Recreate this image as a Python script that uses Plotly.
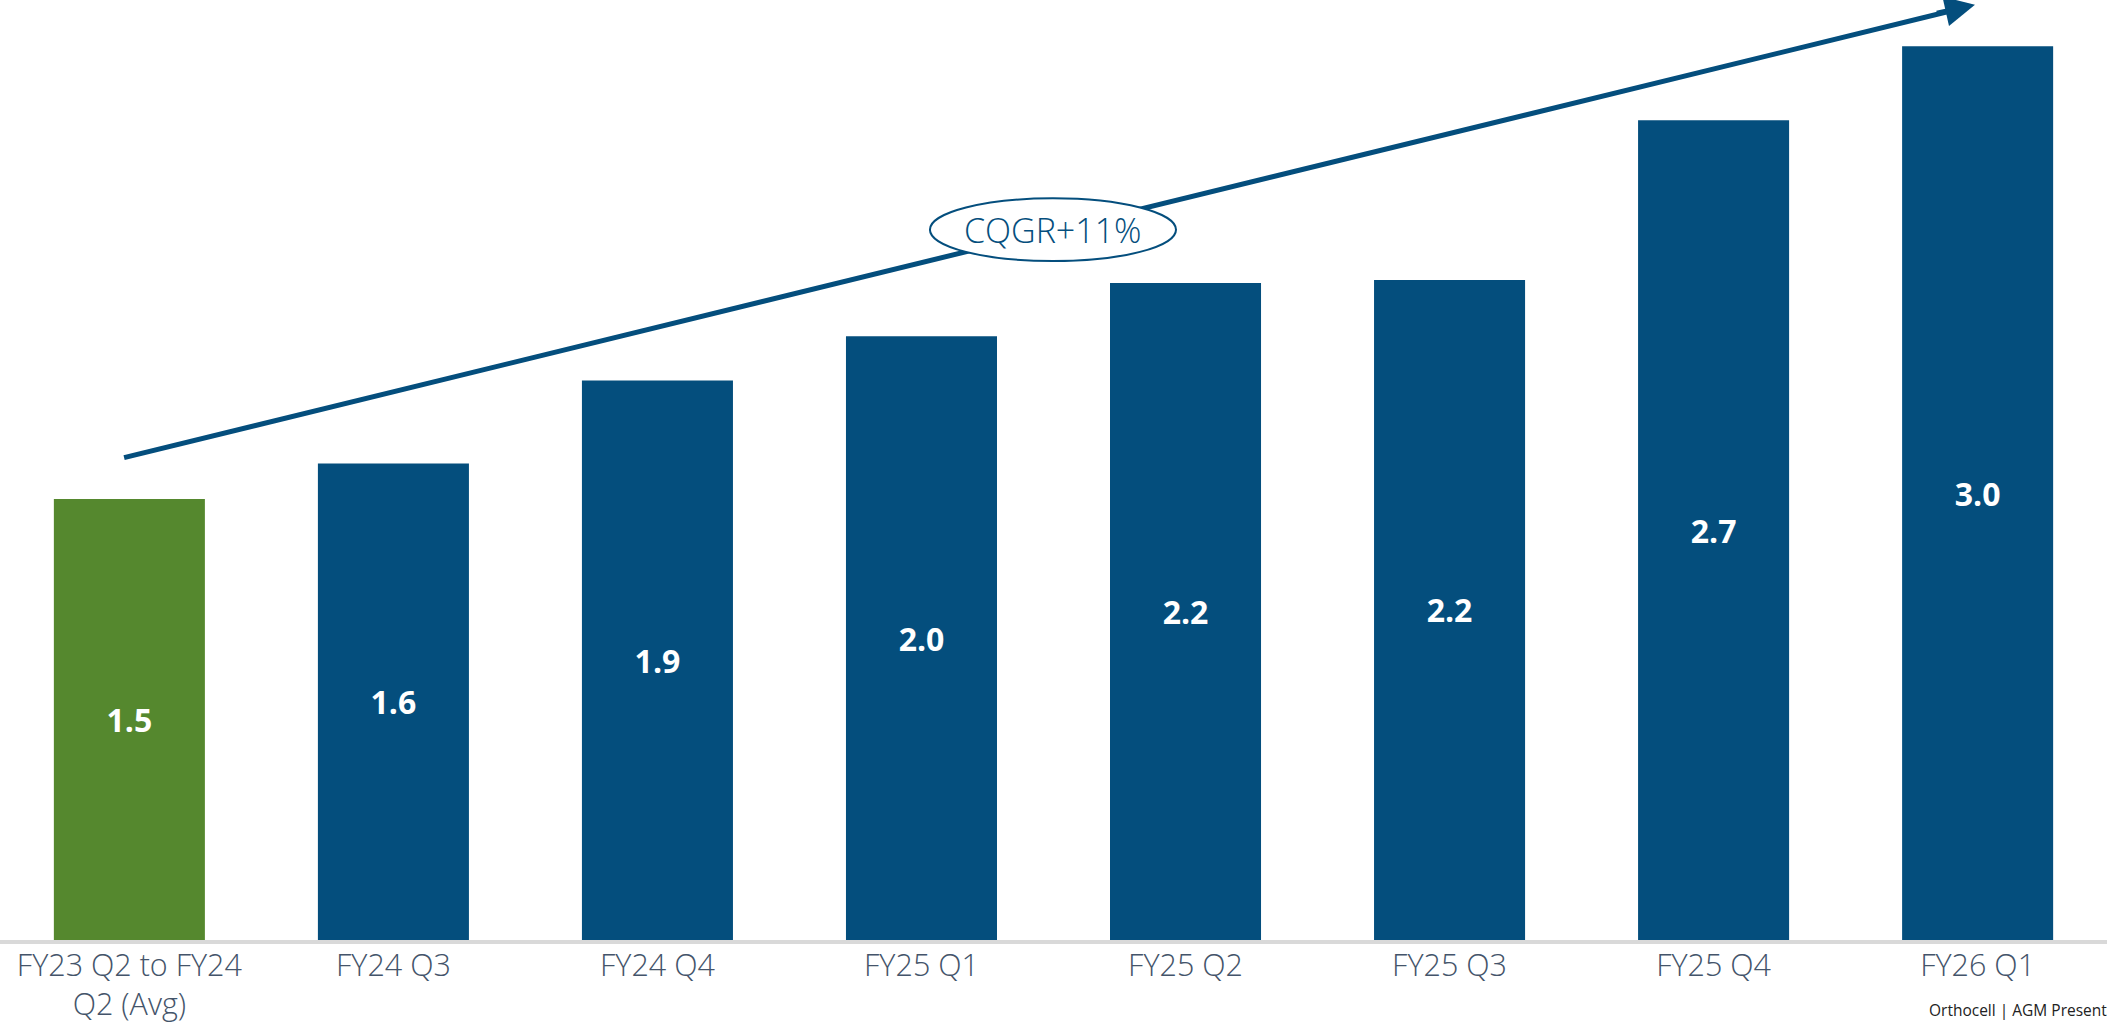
import plotly.graph_objects as go

categories = ["FY23 Q2 to FY24<br>Q2 (Avg)", "FY24 Q3", "FY24 Q4", "FY25 Q1",
              "FY25 Q2", "FY25 Q3", "FY25 Q4", "FY26 Q1"]
values = [1.49, 1.61, 1.89, 2.04, 2.22, 2.23, 2.77, 3.02]
value_labels = ["1.5", "1.6", "1.9", "2.0", "2.2", "2.2", "2.7", "3.0"]
bar_colors = ["#55882E"] + ["#044E7D"] * 7
growth_label = "CQGR+11%"
footer = "Orthocell | AGM Presentation"

BLUE = "#044E7D"
W, H = 2107, 1025
B = 85
PLOT_H = H - B
YMAX = 3.176

x_idx = list(range(len(categories)))

fig = go.Figure()
fig.add_trace(go.Bar(x=x_idx, y=values, marker=dict(color=bar_colors, line=dict(width=0)),
                     width=0.572, hoverinfo="skip", text=value_labels,
                     textposition="inside", insidetextanchor="middle", textangle=0,
                     constraintext="none",
                     textfont=dict(family="Open Sans", size=32, color="white", weight="bold")))

# trend arrow line (shape) + ellipse label
x0, y0, x1, y1 = -0.02, 1.63, 6.99, 3.16
fig.add_shape(type="line", xref="x", yref="y", x0=x0, y0=y0, x1=x1 - 0.05, y1=y1 - 0.012,
              line=dict(color=BLUE, width=5), layer="above")
fig.add_annotation(x=x1, y=y1, ax=x1 - 0.15, ay=y1 - 0.03, xref="x", yref="y",
                   axref="x", ayref="y", showarrow=True, arrowhead=2, arrowsize=1.2,
                   arrowwidth=5, arrowcolor=BLUE, text="")
ex, ey = 3.498, 2.40
fig.add_shape(type="circle", xref="x", yref="y", x0=ex - 0.466, x1=ex + 0.466,
              y0=ey - 0.106, y1=ey + 0.106, fillcolor="white",
              line=dict(color=BLUE, width=2), layer="above")
fig.add_annotation(x=ex, y=ey, xref="x", yref="y", text=growth_label, showarrow=False,
                   font=dict(family="Open Sans", size=34, color=BLUE, weight=300))

fig.add_annotation(x=1927 / W, y=-(1010 - 940) / PLOT_H, xref="paper", yref="paper",
                   xanchor="left", yanchor="middle", text=footer, showarrow=False,
                   font=dict(family="Open Sans", size=15.5, color="#222222"))

fig.update_layout(
    width=W, height=H, margin=dict(l=0, r=0, t=0, b=B, autoexpand=False),
    paper_bgcolor="white", plot_bgcolor="white", showlegend=False,
    xaxis=dict(range=[-0.49, 7.49], tickmode="array", tickvals=x_idx, ticktext=categories,
               automargin=False, showgrid=False, zeroline=False, showline=True,
               linecolor="#D9D9D9", linewidth=4, ticks="", ticklabelstandoff=-5,
               tickfont=dict(family="Open Sans", size=30.5, color="#44546A", weight=300)),
    yaxis=dict(range=[0, YMAX], visible=False, showgrid=False, zeroline=False, automargin=False),
)
fig.write_html("out.html", config={"displayModeBar": False},
               post_script="document.body.style.margin='0';document.body.style.overflow='hidden';")
